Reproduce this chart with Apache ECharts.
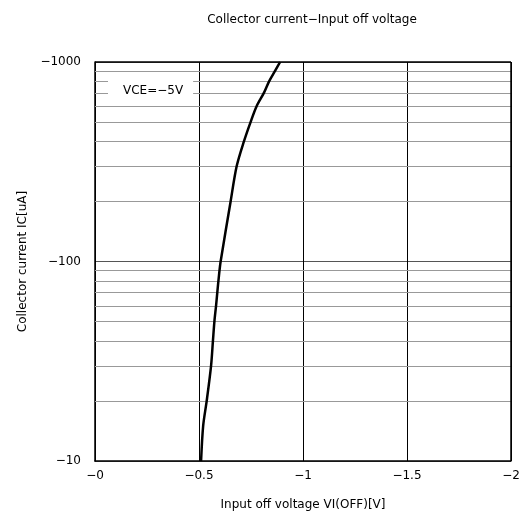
<!DOCTYPE html>
<html>
<head>
<meta charset="utf-8">
<script src="https://cdn.jsdelivr.net/npm/echarts@6/dist/echarts.min.js"></script>
<style>
  html, body { margin: 0; padding: 0; background: #fff; }
  #chart { width: 532px; height: 521px; }
</style>
</head>
<body>
<div id="chart"></div>
<script>
// magnitudes; the axes print them with a leading minus sign
var voltage = [0.51, 0.52, 0.537, 0.558, 0.567, 0.574, 0.582, 0.588, 0.596, 0.604,
  0.652, 0.681, 0.716, 0.748, 0.777, 0.812, 0.837, 0.865, 0.89];
var current = [10, 15, 20, 30, 40, 50, 60, 70, 85, 100,
  200, 300, 400, 500, 600, 700, 800, 900, 1000];
var minorGrid = [20, 30, 40, 50, 60, 70, 80, 90, 200, 300, 400, 500, 600, 700, 800, 900];
var xTicks = ['−0', '−0.5', '−1', '−1.5', '−2'];

var font = '"DejaVu Sans", sans-serif';
var points = voltage.map(function (v, i) { return [v, current[i]]; });

var chart = echarts.init(document.getElementById('chart'));
chart.setOption({
  backgroundColor: '#fff',
  animation: false,
  title: [{
    text: 'Collector current−Input off voltage',
    left: 307,
    textAlign: 'center',
    top: 9,
    textStyle: { fontFamily: font, fontSize: 12, fontWeight: 'normal', color: '#000' }
  }, {
    text: 'VCE=−5V',
    left: 108,
    top: 80,
    padding: [5, 10, 5, 15],
    backgroundColor: '#fff',
    textStyle: { fontFamily: font, fontSize: 12, fontWeight: 'normal', color: '#000' }
  }],
  grid: { left: 95, top: 62, width: 416, height: 399, show: false },
  xAxis: {
    type: 'value',
    min: 0,
    max: 2,
    interval: 0.5,
    name: 'Input off voltage VI(OFF)[V]',
    nameLocation: 'middle',
    nameGap: 38,
    nameTextStyle: { fontFamily: font, fontSize: 12, color: '#000' },
    axisLine: { show: true, lineStyle: { color: '#000', width: 1.5 } },
    axisTick: { show: false },
    axisLabel: {
      fontFamily: font, fontSize: 12, color: '#000', margin: 9,
      formatter: function (v) { return xTicks[Math.round(v / 0.5)]; }
    },
    splitLine: { show: true, lineStyle: { color: '#000', width: 1 } }
  },
  yAxis: {
    type: 'log',
    logBase: 10,
    min: 10,
    max: 1000,
    name: 'Collector current IC[uA]',
    nameLocation: 'middle',
    nameGap: 66,
    nameTextStyle: { fontFamily: font, fontSize: 12, color: '#000' },
    axisLine: { show: true, lineStyle: { color: '#000', width: 1.5 } },
    axisTick: { show: false },
    axisLabel: {
      fontFamily: font, fontSize: 12, color: '#000', margin: 14,
      formatter: function (v) { return '−' + v; }
    },
    splitLine: { show: true, lineStyle: { color: '#555', width: 1 } }
  },
  series: [{
    type: 'line',
    data: points,
    symbol: 'none',
    smooth: 0.3,
    lineStyle: { color: '#000', width: 2.5 },
    z: 5,
    markLine: {
      silent: true,
      symbol: 'none',
      label: { show: false },
      lineStyle: { color: '#999', width: 1, type: 'solid' },
      data: minorGrid.map(function (v) { return { yAxis: v }; })
    }
  }, {
    // top and right frame
    type: 'line',
    data: [],
    markLine: {
      silent: true,
      symbol: 'none',
      label: { show: false },
      lineStyle: { color: '#000', width: 1.5, type: 'solid' },
      data: [{ yAxis: 1000 }, { xAxis: 2 }]
    }
  }]
});
</script>
</body>
</html>
